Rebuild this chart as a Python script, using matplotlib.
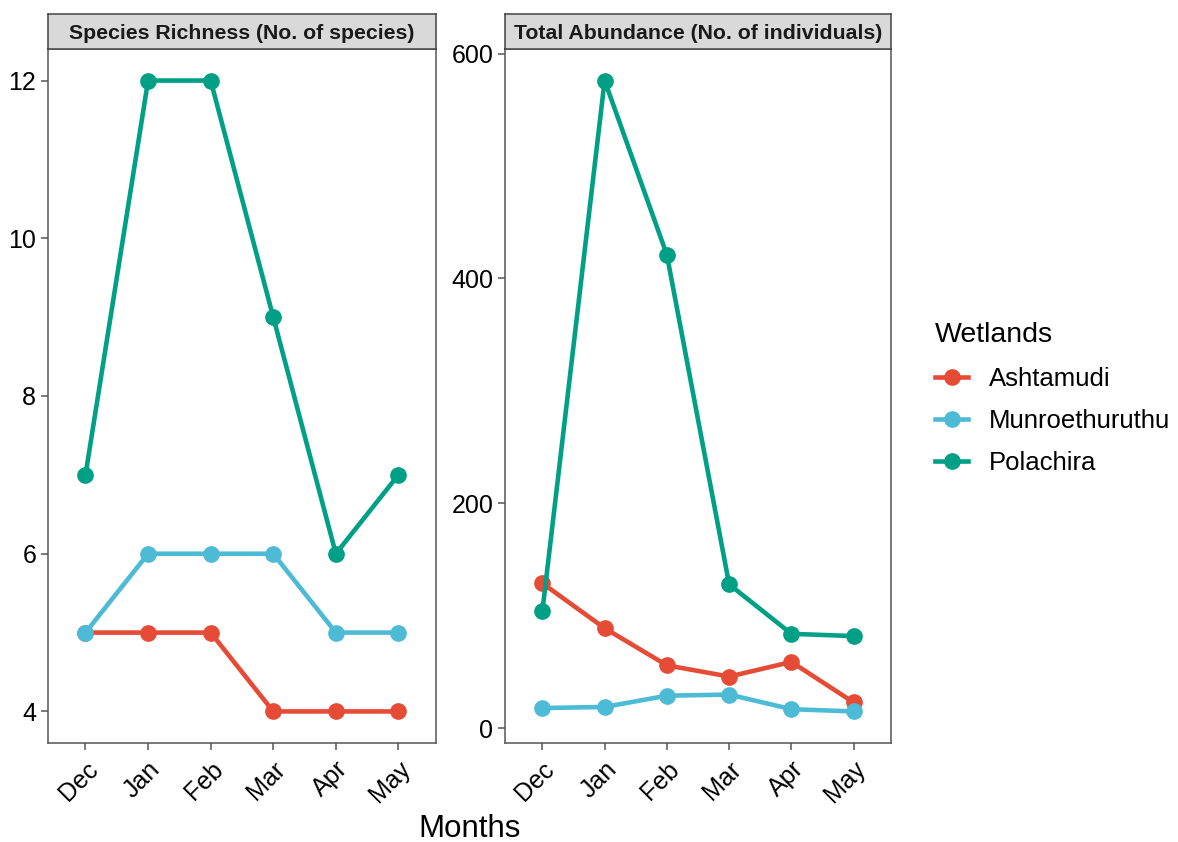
import matplotlib.pyplot as plt
from matplotlib.lines import Line2D

plt.rcParams["font.family"] = ["Liberation Sans", "DejaVu Sans"]

MONTHS = ["Dec", "Jan", "Feb", "Mar", "Apr", "May"]
WETLANDS = ["Ashtamudi", "Munroethuruthu", "Polachira"]
COLORS = {"Ashtamudi": "#E64B35", "Munroethuruthu": "#4DBBD5", "Polachira": "#00A087"}

richness_ashtamudi = [5, 5, 5, 4, 4, 4]
richness_munroe = [5, 6, 6, 6, 5, 5]
richness_polachira = [7, 12, 12, 9, 6, 7]

abundance_ashtamudi = [129, 89, 56, 46, 59, 23]
abundance_munroe = [18, 19, 29, 30, 17, 15]
abundance_polachira = [104, 576, 421, 128, 84, 82]

richness = {"Ashtamudi": richness_ashtamudi, "Munroethuruthu": richness_munroe, "Polachira": richness_polachira}
abundance = {"Ashtamudi": abundance_ashtamudi, "Munroethuruthu": abundance_munroe, "Polachira": abundance_polachira}

LW = 3.3
MS = 11


def draw_panel(fig, rect, data, title, yticks):
    ax = fig.add_axes(rect)
    x = list(range(len(MONTHS)))
    for name in WETLANDS:
        ax.plot(x, data[name], color=COLORS[name], lw=LW, marker="o", ms=MS)
    ax.set_xlim(-0.6, len(MONTHS) - 0.4)
    lo = min(min(v) for v in data.values())
    hi = max(max(v) for v in data.values())
    pad = (hi - lo) * 0.05
    ax.set_ylim(lo - pad, hi + pad)
    ax.set_xticks(x)
    ax.set_xticklabels(MONTHS, rotation=45, ha="right", rotation_mode="anchor", fontsize=18)
    ax.set_yticks(yticks)
    ax.tick_params(axis="y", labelsize=18, length=5, width=1.1, color="#555555")
    ax.tick_params(axis="x", length=5, width=1.1, color="#555555", pad=5)
    for s in ax.spines.values():
        s.set_color("#555555")
        s.set_linewidth(1.1)

    # facet strip on top
    x0, y0, w, h = rect
    strip = fig.add_axes([x0, y0 + h, w, 0.0416])
    strip.set_xticks([])
    strip.set_yticks([])
    strip.set_facecolor("#D9D9D9")
    for s in strip.spines.values():
        s.set_color("#444444")
        s.set_linewidth(1.1)
    strip.text(0.5, 0.45, title, ha="center", va="center", fontsize=15.3, fontweight="bold", color="#1A1A1A")
    return ax


fig = plt.figure(figsize=(11.78, 8.42), dpi=100)

draw_panel(fig, [0.0407, 0.1176, 0.3294, 0.8242], richness,
           "Species Richness (No. of species)", [4, 6, 8, 10, 12])
draw_panel(fig, [0.4287, 0.1176, 0.3277, 0.8242], abundance,
           "Total Abundance (No. of individuals)", [0, 200, 400, 600])

fig.text(0.399, -0.002, "Months", ha="center", va="bottom", fontsize=22.5)

handles = [Line2D([0], [0], color=COLORS[n], lw=LW, marker="o", ms=MS) for n in WETLANDS]
leg = fig.legend(handles, WETLANDS, title="Wetlands", loc="center left",
                 bbox_to_anchor=(0.774, 0.527), frameon=False, fontsize=18.5,
                 title_fontsize=20.5, handlelength=1.3, handletextpad=0.8, labelspacing=0.7)
leg._legend_box.align = "left"
leg._legend_box.sep = 14

fig.savefig("out.png", dpi=100)
